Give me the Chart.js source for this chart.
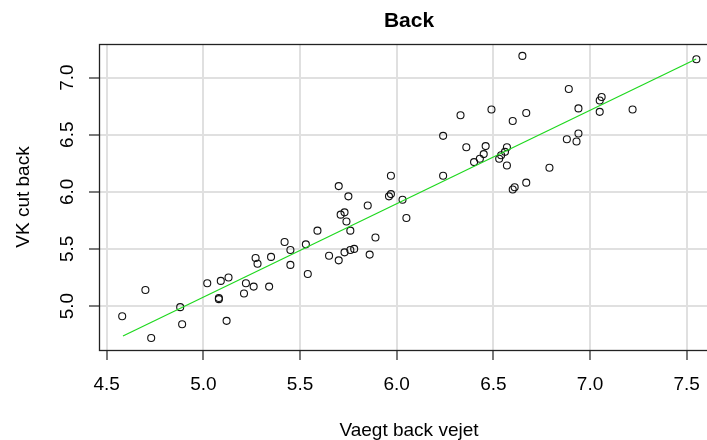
<!DOCTYPE html>
<html>
<head>
<meta charset="utf-8">
<script src="https://cdn.jsdelivr.net/npm/chart.js@4.4.1/dist/chart.umd.min.js"></script>
<style>
  html, body { margin: 0; padding: 0; background: #fff; }
  #wrap { width: 707px; height: 440px; overflow: hidden; }
</style>
</head>
<body>
<div id="wrap"><canvas id="backChart" width="725" height="440"></canvas></div>
<script>
const vaegtBack = [
  4.58, 4.70, 4.73, 4.88, 4.89, 5.02, 5.08, 5.08, 5.09, 5.13, 5.12, 5.21, 5.22, 5.26, 5.27,
  5.28, 5.34, 5.35, 5.42, 5.45, 5.45,
  5.53, 5.54, 5.59, 5.65, 5.70, 5.70, 5.71, 5.73, 5.74, 5.73, 5.75, 5.76, 5.76, 5.78,
  5.85, 5.86, 5.89, 5.97, 5.96, 5.97, 6.03, 6.05, 6.24, 6.24, 6.33, 6.36, 6.40, 6.43,
  6.45, 6.46, 6.49,
  6.65, 6.89, 6.94, 7.06, 7.05, 7.05, 7.22, 7.55, 6.67, 6.60, 6.94, 6.88, 6.93, 6.57,
  6.56, 6.54, 6.53, 6.57, 6.79, 6.67, 6.61, 6.60
];
const vkCutBack = [
  4.91, 5.14, 4.72, 4.99, 4.84, 5.20, 5.07, 5.06, 5.22, 5.25, 4.87, 5.11, 5.20, 5.17, 5.42,
  5.37, 5.17, 5.43, 5.56, 5.49, 5.36,
  5.54, 5.28, 5.66, 5.44, 6.05, 5.40, 5.80, 5.82, 5.74, 5.47, 5.96, 5.66, 5.49, 5.50,
  5.88, 5.45, 5.60, 6.14, 5.96, 5.98, 5.93, 5.77, 6.49, 6.14, 6.67, 6.39, 6.26, 6.29,
  6.33, 6.40, 6.72,
  7.19, 6.90, 6.73, 6.83, 6.80, 6.70, 6.72, 7.16, 6.69, 6.62, 6.51, 6.46, 6.44, 6.39,
  6.35, 6.32, 6.29, 6.23, 6.21, 6.08, 6.04, 6.02
];
// fitted line, two ends
const fitX = [4.584, 7.549];
const fitY = [4.737, 7.163];

const xTicksRange = [4.46, 7.667];
const yTicksRange = [4.615, 7.294];

const fontFamily = "'Liberation Sans', Arial, sans-serif";
Chart.defaults.color = "#000";
Chart.defaults.font.family = fontFamily;

const boxPlugin = {
  id: "rbox",
  afterDatasetsDraw(chart) {
    const a = chart.chartArea;
    const ctx = chart.ctx;
    ctx.save();
    ctx.strokeStyle = "#222";
    ctx.lineWidth = 1.3;
    ctx.strokeRect(a.left + 0.5, a.top + 0.5, a.right - a.left, a.bottom - a.top);
    ctx.restore();
  }
};

const points = vaegtBack.map((x, i) => ({ x: x, y: vkCutBack[i] }));
const fitLine = fitX.map((x, i) => ({ x: x, y: fitY[i] }));

const ctx = document.getElementById("backChart").getContext("2d");
new Chart(ctx, {
  type: "scatter",
  data: {
    datasets: [
      {
        type: "line",
        data: fitLine,
        borderColor: "#1ed81e",
        borderWidth: 1.2,
        pointRadius: 0,
        fill: false,
        tension: 0,
        order: 0
      },
      {
        data: points,
        pointStyle: "circle",
        pointRadius: 3.5,
        pointHoverRadius: 3.5,
        borderColor: "#111",
        borderWidth: 1.1,
        backgroundColor: "rgba(0,0,0,0)",
        order: 1
      }
    ]
  },
  options: {
    responsive: false,
    animation: false,
    layout: { padding: { left: 0, right: 6, top: 0, bottom: 0 } },
    plugins: {
      legend: { display: false },
      tooltip: { enabled: false },
      title: {
        display: true,
        text: "Back",
        fullSize: false,
        color: "#000",
        font: { size: 21, weight: "bold", family: fontFamily, lineHeight: 1.2 },
        padding: { top: 8.4, bottom: 10.4 }
      }
    },
    scales: {
      x: {
        type: "linear",
        min: xTicksRange[0],
        max: xTicksRange[1],
        afterFit: s => { s.height = 90; },
        border: { display: false },
        grid: {
          color: "#e0e0e0",
          lineWidth: 2,
          drawTicks: true,
          tickLength: 10,
          tickColor: "#222",
          tickWidth: 1.2
        },
        ticks: {
          stepSize: 0.5,
          includeBounds: false,
          padding: 13,
          font: { size: 19 },
          maxRotation: 0,
          callback: v => v.toFixed(1)
        },
        title: {
          display: true,
          text: "Vaegt back vejet",
          font: { size: 19, lineHeight: 1 },
          padding: { top: 0, bottom: 0 }
        }
      },
      y: {
        type: "linear",
        min: yTicksRange[0],
        max: yTicksRange[1],
        afterFit: s => { s.width = 99; },
        border: { display: false },
        grid: {
          color: "#e0e0e0",
          lineWidth: 2,
          drawTicks: true,
          tickLength: 10,
          tickColor: "#222",
          tickWidth: 1.2
        },
        ticks: {
          stepSize: 0.5,
          includeBounds: false,
          minRotation: 90,
          maxRotation: 90,
          crossAlign: "center",
          padding: 8.5,
          font: { size: 19 },
          callback: v => v.toFixed(1)
        },
        title: {
          display: true,
          text: "VK cut back",
          font: { size: 19, lineHeight: 1 },
          padding: { top: 14, bottom: 0 }
        }
      }
    }
  },
  plugins: [boxPlugin]
});
</script>
</body>
</html>
